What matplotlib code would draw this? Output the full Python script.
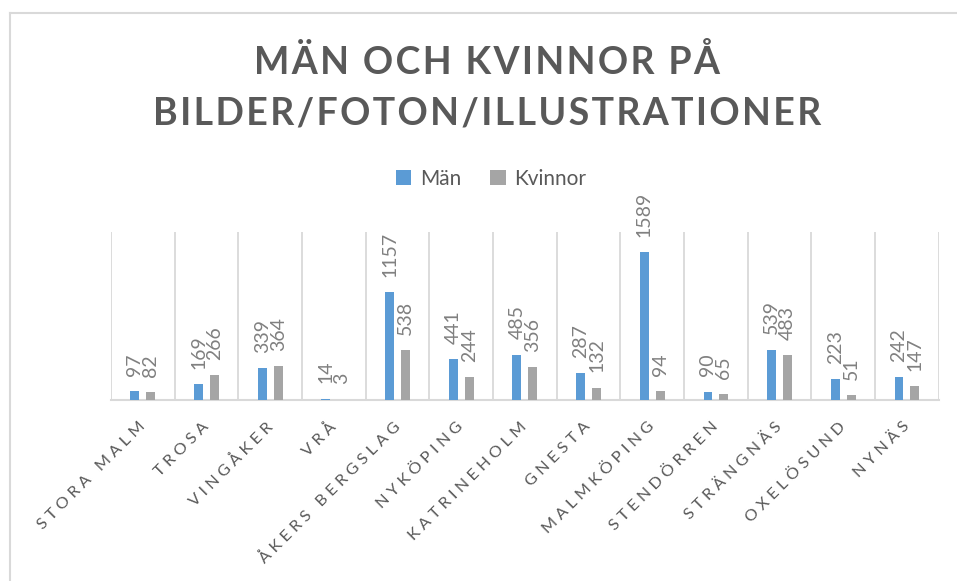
import numpy as np
import matplotlib
matplotlib.use("Agg")
from matplotlib import pyplot as plt
from matplotlib.lines import Line2D
from matplotlib.transforms import ScaledTranslation

plt.rcParams["font.family"] = ["Lato", "DejaVu Sans"]

kommuner = ["STORA MALM", "TROSA", "VINGÅKER", "VRÅ", "ÅKERS BERGSLAG", "NYKÖPING",
            "KATRINEHOLM", "GNESTA", "MALMKÖPING", "STENDÖRREN", "STRÄNGNÄS",
            "OXELÖSUND", "NYNÄS"]
man = [97, 169, 339, 14, 1157, 441, 485, 287, 1589, 90, 539, 223, 242]
kvinnor = [82, 266, 364, 3, 538, 244, 356, 132, 94, 65, 483, 51, 147]

BLUE, GREY = "#5B9BD5", "#A5A5A5"
TXT, LBL, GRID = "#595959", "#808080", "#D9D9D9"


def spaced(s, sep=" "):
    # fake letter spacing
    return (sep * 3).join(sep.join(wd) for wd in s.split(" "))


fig = plt.figure(figsize=(9.57, 5.81), dpi=100)
ax = fig.add_axes([0.116, 0.3115, 0.865, 0.289])

x = np.arange(len(kommuner)); w = 0.14; off = 0.125
b1 = ax.bar(x - off, man, w, color=BLUE, label="Män", zorder=3)
b2 = ax.bar(x + off, kvinnor, w, color=GREY, label="Kvinnor", zorder=3)
for bars in (b1, b2):
    for r in bars:
        ax.annotate(str(int(r.get_height())), (r.get_x() + r.get_width() / 2, r.get_height()),
                    xytext=(0, 11), textcoords="offset points", rotation=90,
                    ha="center", va="bottom", fontsize=14, color=LBL)

ax.set_xlim(-0.5, len(kommuner) - 0.5); ax.set_ylim(0, 1800)
ax.set_xticks(x)
ax.set_xticklabels([spaced(k) for k in kommuner], rotation=45, ha="right", va="top",
                   rotation_mode="anchor", fontsize=11.8, color=TXT)
ax.tick_params(axis="x", length=0, pad=14)
shift = ScaledTranslation(-5 / 100, 0, fig.dpi_scale_trans)
for t in ax.get_xticklabels():
    t.set_transform(t.get_transform() + shift)
ax.set_xticks(np.arange(-0.5, len(kommuner)), minor=True)
ax.tick_params(axis="x", which="minor", length=0)
ax.grid(True, axis="x", which="minor", color=GRID, lw=1.3, zorder=0)
ax.set_yticks([])
for s in ("top", "left", "right"):
    ax.spines[s].set_visible(False)
ax.spines["bottom"].set_color(GRID); ax.spines["bottom"].set_linewidth(1.5)

fig.text(0.509, 0.893, "\u200a".join("MÄN OCH KVINNOR PÅ"), ha="center", va="center",
         fontsize=27, fontweight="bold", color=TXT)
fig.text(0.509, 0.805, "\u200a".join("BILDER/FOTON/ILLUSTRATIONER"), ha="center", va="center",
         fontsize=27, fontweight="bold", color=TXT)

fig.legend(loc="center", bbox_to_anchor=(0.513, 0.692), ncol=2, frameon=False,
           fontsize=15, labelcolor=TXT, handlelength=0.75, handleheight=0.75,
           handletextpad=0.4, columnspacing=1.4)

# chart area border (left and top edges visible)
fig.add_artist(Line2D([9.5 / 957, 9.5 / 957], [0, 1 - 13 / 581], color=GRID, lw=1.5))
fig.add_artist(Line2D([9.5 / 957, 1], [1 - 13 / 581, 1 - 13 / 581], color=GRID, lw=1.5))

fig.savefig("out.png", dpi=100)
